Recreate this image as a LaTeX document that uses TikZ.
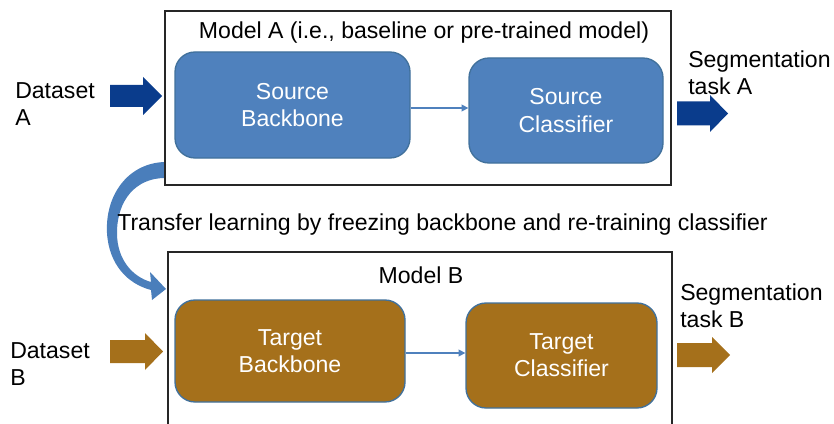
\documentclass[tikz,border=0pt]{standalone}
\usepackage{fontspec}
\setmainfont{Liberation Sans}
\usetikzlibrary{arrows.meta}
\definecolor{blockblue}{HTML}{4F81BD}
\definecolor{blockedge}{HTML}{41719C}
\definecolor{brownfill}{HTML}{A5701B}
\definecolor{navy}{HTML}{0A3C8C}
\definecolor{curveblue}{HTML}{4A7EBB}
\begin{document}
\begin{tikzpicture}[x=0.75pt,y=-0.75pt,
  font=\fontsize{17.3}{20.5}\selectfont,
  block/.style={rounded corners=15pt, draw=blockedge, line width=1pt, text=white, align=center, inner sep=0pt},
  srcblock/.style={block, fill=blockblue},
  tgtblock/.style={block, fill=brownfill},
  modelbox/.style={draw=black!85, line width=1.1pt, fill=white, inner sep=0pt},
  thinarrow/.style={draw=blockblue, line width=1.1pt, -{Triangle[length=5pt,width=5pt]}},
  lbl/.style={align=left, inner sep=0pt}]
\useasboundingbox (0,0) rectangle (834,424);
\clip (0,0) rectangle (834,424);
% curved transfer arrow
\fill[curveblue] (165,162) .. controls (128,163) and (105,195) .. (107,233)
  .. controls (109,265) and (128,284) .. (151,290) -- (152,300) -- (166,289) -- (150,272) -- (151,282)
  .. controls (133,277) and (117,260) .. (117,233)
  .. controls (117,200) and (136,178) .. (165,178) -- cycle;
% model boxes
\node[modelbox, minimum width=379.5pt, minimum height=130.5pt] (ma) at (418,98) {};
\node[modelbox, minimum width=378pt, minimum height=141pt] (mb) at (420,346) {};
\node (mat) at (424,33) {Model A (i.e., baseline or pre-trained model)};
\node (mbt) at (421,275) {Model B};
% blocks
\node[srcblock, minimum width=176.25pt, minimum height=79.5pt] (sb) at (292.5,105) {Source\\Backbone};
\node[srcblock, minimum width=145.5pt, minimum height=78.75pt] (sc) at (566,110.5) {Source\\Classifier};
\node[tgtblock, minimum width=172.5pt, minimum height=76.5pt] (tb) at (290,351) {Target\\Backbone};
\node[tgtblock, minimum width=143.25pt, minimum height=78.75pt] (tc) at (561.5,355.5) {Target\\Classifier};
\draw[thinarrow] ([yshift=-2.25pt]sb.east) -- ([yshift=-2.25pt]sb.east -| sc.west);
\draw[thinarrow] ([yshift=-1.5pt]tb.east) -- ([yshift=-1.5pt]tb.east -| tc.west);
% labels
\node[lbl, anchor=west] (dsa) at (15,104) {Dataset\\A};
\node[lbl, anchor=west] (dsb) at (10,364) {Dataset\\B};
\node[lbl, anchor=west] (sta) at (688,73) {Segmentation\\task A};
\node[lbl, anchor=west] (stb) at (680,306) {Segmentation\\task B};
\node (tr) at (442.5,225) {Transfer learning by freezing backbone and re-training classifier};
% block arrows
\fill[navy] (110,85) -- (143,85) -- (143,77) -- (162,96) -- (143,115) -- (143,107) -- (110,107) -- cycle;
\fill[navy] (677,101.5) -- (710,101.5) -- (710,95) -- (728,113.5) -- (710,132) -- (710,125.5) -- (677,125.5) -- cycle;
\fill[brownfill] (110,340) -- (145,340) -- (145,333) -- (163,351.5) -- (145,370) -- (145,363) -- (110,363) -- cycle;
\fill[brownfill] (677,343) -- (712,343) -- (712,337) -- (730,355) -- (712,373) -- (712,367) -- (677,367) -- cycle;
\end{tikzpicture}
\end{document}
